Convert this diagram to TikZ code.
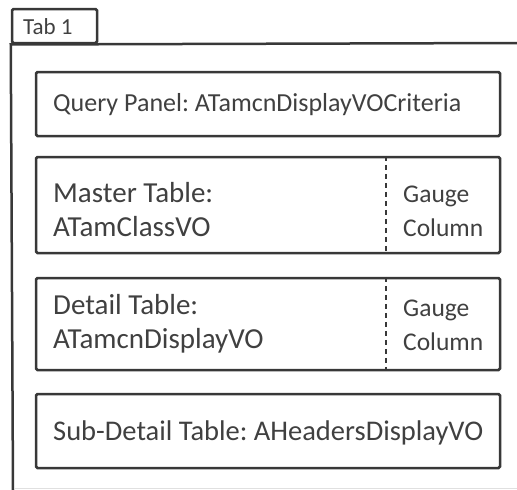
\documentclass[tikz,border=0pt]{standalone}
\usepackage{fontspec}
\setmainfont{Carlito}
\usetikzlibrary{positioning}
\colorlet{inkline}{black!78}
\colorlet{inktext}{black!75}
\tikzset{
  panel/.style={
    draw=inkline,
    line width=2.5pt,
    rounded corners=1.5pt,
    minimum width=464pt,
    minimum height=#1
  },
  panel/.default={64pt},
%
  tabbox/.style={
    draw=inkline,
    line width=2.5pt,
    rounded corners=1.5pt,
    minimum width=85pt,
    minimum height=34pt
  },
%
  label/.style={
    text=inktext,
    anchor=west,
    align=left,
    inner sep=0pt,
    font=\fontsize{#1}{34}\selectfont
  },
  label/.default={23},
%
  divider/.style={
    draw=inkline,
    line width=2.5pt,
    dash pattern=on 5pt off 4pt
  },
%
  frame/.style={
    draw=inkline,
    line width=2.5pt
  },
}

\begin{document}
\frenchspacing
\begin{tikzpicture}[x=1pt,y=-1pt]
\useasboundingbox (0,0) rectangle (517,490);

\node[tabbox] at (54.5,26) (tab) {};
\node[label] at (23,27) (tabtxt) {Tab 1};
\draw[frame] (517,43) -- (tab.south east) -- (tab.south west) -- (13,490);
\draw[black!12, line width=1pt] (14,488) -- (517,488);

\node[panel] at (268,104) (query) {};
\node[panel=96pt] at (268,205) (master) {};
\node[panel=92pt] at (268,324) (detail) {};
\node[panel=74pt] at (268,431) (subdetail) {};

\coordinate (cut) at (386,0);
\draw[divider] (master.north -| cut) -- (master.south -| cut);
\draw[divider] (detail.north -| cut) -- (detail.south -| cut);

\node[label=26] at (53,105) (querytxt) {Query Panel: ATamcnDisplayVOCriteria};
\node[label=29] at (53,210) (mastertxt) {Master Table:\\ATamClassVO};
\node[label=25.5] at (403,211) (mastergauge) {Gauge\\Column};
\node[label=29] at (53,324) (detailtxt) {Detail Table:\\ATamcnDisplayVO};
\node[label=25.5] at (403,325) (detailgauge) {Gauge\\Column};
\node[label=28.5] at (53,433) (subdetailtxt) {Sub-Detail Table: AHeadersDisplayVO};

\end{tikzpicture}
\end{document}
